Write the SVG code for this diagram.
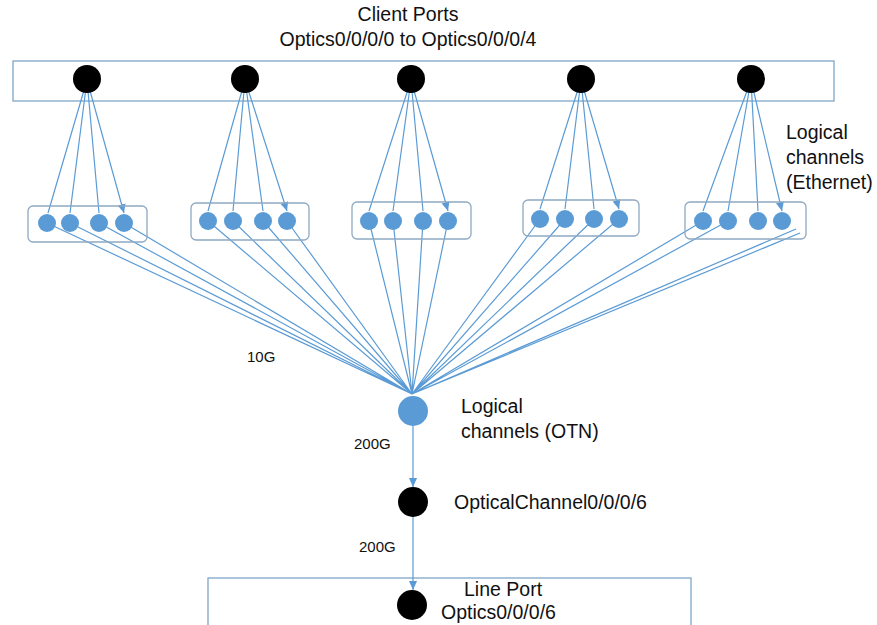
<svg xmlns="http://www.w3.org/2000/svg" width="877" height="625" viewBox="0 0 877 625">
<defs>
<style>
.box{fill:none;stroke:#7EA6C8;stroke-width:1.3}
.grp{fill:none;stroke:#8FA9C2;stroke-width:1.3}
.ln{stroke:#5B9BD5;stroke-width:1.2;fill:none}
.arr{stroke:#5B9BD5;stroke-width:1.2;fill:none;marker-end:url(#ah)}
.blk{fill:#000}
.blu{fill:#5B9BD5}
.t{font-family:"Liberation Sans",Arial,sans-serif;font-size:19.5px;fill:#111}
.s{font-family:"Liberation Sans",Arial,sans-serif;font-size:15px;fill:#111}
</style>
<marker id="ah" viewBox="0 0 10 10" refX="10" refY="5" markerWidth="9" markerHeight="9" markerUnits="userSpaceOnUse" orient="auto">
<path d="M0,0.5 L10,5 L0,9.5 z" fill="#5B9BD5"/>
</marker>
</defs>
<rect width="877" height="625" fill="#fff"/>

<g id="client-ports-box"><rect class="box" x="13" y="61" width="821" height="40"/></g>
<g id="line-port-box"><rect class="box" x="208" y="578" width="483" height="60"/></g>

<g id="connectors">
<path class="arr" d="M87,80 L48,213 M87,80 L70,213 M87,80 L99,213 M87,80 L124,213"/>
<path class="arr" d="M245,80 L208,211 M245,80 L233,211 M245,80 L263,211 M245,80 L287,211"/>
<path class="arr" d="M411,80 L369,211 M411,80 L393,211 M411,80 L423,211 M411,80 L448,211"/>
<path class="arr" d="M581,80 L540,209 M581,80 L565,209 M581,80 L594,209 M581,80 L619,209"/>
<path class="arr" d="M751,80 L703,211 M751,80 L728,211 M751,80 L758,211 M751,80 L782,211"/>
<path class="ln" d="M47,223 L412,394 M70,223 L412,394 M99,223 L412,394 M124,223 L412,394"/>
<path class="ln" d="M208,221 L412,394 M233,221 L412,394 M263,221 L412,394 M287,221 L412,394"/>
<path class="ln" d="M369,221 L412,394 M393,221 L412,394 M423,221 L412,394 M448,221 L412,394"/>
<path class="ln" d="M540,219 L412,394 M565,219 L412,394 M594,219 L412,394 M619,219 L412,394"/>
<path class="ln" d="M703,221 L412,394 M728,221 L412,394 M796,229 L412,394 M800,233 L412,394"/>
<path class="arr" d="M413,426 L413,487"/>
<path class="arr" d="M413,517 L413,590"/>
</g>

<g id="client-port-0"><circle class="blk" cx="87" cy="79" r="14"/></g>
<g id="client-port-1"><circle class="blk" cx="245" cy="79" r="14"/></g>
<g id="client-port-2"><circle class="blk" cx="411" cy="79" r="14"/></g>
<g id="client-port-3"><circle class="blk" cx="581" cy="79" r="14"/></g>
<g id="client-port-4"><circle class="blk" cx="751" cy="79" r="14"/></g>

<g id="eth-group-0">
<rect class="grp" x="28" y="206" width="119" height="36" rx="5"/>
<circle class="blu" cx="47" cy="223" r="9"/><circle class="blu" cx="70" cy="223" r="9"/><circle class="blu" cx="99" cy="223" r="9"/><circle class="blu" cx="124" cy="223" r="9"/>
</g>
<g id="eth-group-1">
<rect class="grp" x="191" y="203" width="118" height="37" rx="5"/>
<circle class="blu" cx="208" cy="221" r="9"/><circle class="blu" cx="233" cy="221" r="9"/><circle class="blu" cx="263" cy="221" r="9"/><circle class="blu" cx="287" cy="221" r="9"/>
</g>
<g id="eth-group-2">
<rect class="grp" x="352" y="202" width="119" height="37" rx="5"/>
<circle class="blu" cx="369" cy="221" r="9"/><circle class="blu" cx="393" cy="221" r="9"/><circle class="blu" cx="423" cy="221" r="9"/><circle class="blu" cx="448" cy="221" r="9"/>
</g>
<g id="eth-group-3">
<rect class="grp" x="523" y="200" width="116" height="36" rx="5"/>
<circle class="blu" cx="540" cy="219" r="9"/><circle class="blu" cx="565" cy="219" r="9"/><circle class="blu" cx="594" cy="219" r="9"/><circle class="blu" cx="619" cy="219" r="9"/>
</g>
<g id="eth-group-4">
<rect class="grp" x="685" y="202" width="121" height="37" rx="5"/>
<circle class="blu" cx="703" cy="221" r="9"/><circle class="blu" cx="728" cy="221" r="9"/><circle class="blu" cx="758" cy="221" r="9"/><circle class="blu" cx="782" cy="221" r="9"/>
</g>

<g id="otn"><circle class="blu" cx="413" cy="411" r="15"/></g>
<g id="optical-channel"><circle class="blk" cx="413" cy="502" r="15"/></g>
<g id="line-port"><circle class="blk" cx="412" cy="605" r="15"/></g>

<g id="labels">
<text class="t" x="408" y="21" text-anchor="middle">Client Ports</text>
<text class="t" x="408" y="46" text-anchor="middle">Optics0/0/0/0 to Optics0/0/0/4</text>
<text class="t" x="786" y="139">Logical</text>
<text class="t" x="786" y="164">channels</text>
<text class="t" x="786" y="189">(Ethernet)</text>
<text class="s" x="247" y="362">10G</text>
<text class="t" x="461" y="413">Logical</text>
<text class="t" x="461" y="438">channels (OTN)</text>
<text class="s" x="354" y="449">200G</text>
<text class="t" x="454" y="509">OpticalChannel0/0/0/6</text>
<text class="s" x="359" y="552">200G</text>
<text class="t" x="464" y="596">Line Port</text>
<text class="t" x="441" y="619">Optics0/0/0/6</text>
</g>
</svg>
